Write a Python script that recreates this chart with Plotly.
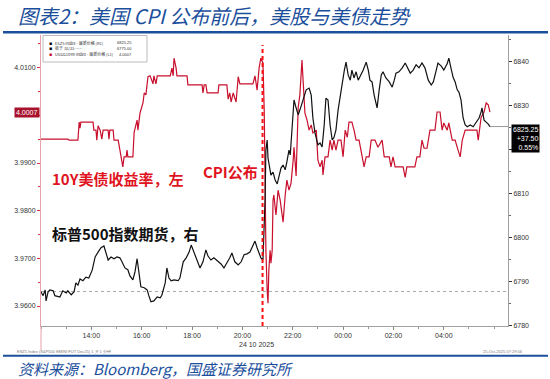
import plotly.graph_objects as go

# ---------------- data ----------------
# US 10Y Treasury yield (left axis), Beijing time 24-25 Oct 2025
ust_time = ["12:00","13:04","13:07","13:28","13:31","13:33","13:35","14:04","14:06","14:11","14:13","14:16","14:21","14:25","14:28","14:40","14:42","14:44","14:52","14:54","15:04","15:08","15:13","15:15","15:18","15:23","15:25","15:27","15:39","15:42","15:49","15:51","15:56","16:03","16:06","16:10","16:15","16:20","16:27","16:29","16:34","16:37","17:08","17:12","17:15","17:17","17:22","17:24","17:48","17:50","18:24","18:26","18:29","18:33","18:36","19:02","19:04","19:23","19:26","19:30","19:33","19:38","19:45","19:47","19:50","19:54","20:25","20:30","20:35","20:40","20:44","20:49",
            "20:52","20:54","20:56","20:59","21:01","21:03","21:06","21:08","21:11","21:13","21:15","21:20","21:25","21:30","21:34","21:37","21:42","21:46","21:51","21:56","22:01","22:03","22:08","22:13","22:17","22:22","22:25","22:29","22:34","22:39","22:44","22:48","22:56","23:00","23:05","23:10","23:12","23:17","23:24","23:29","23:34","23:38","23:43","23:48","23:55","00:00","00:05","00:10","00:14","00:21","00:26","00:31","00:38","00:45","00:50","00:55","01:02","01:07","01:16","01:23","01:33","01:38","01:50","01:54","01:59","02:04","02:23","02:28","02:32","02:51","02:56","03:03","03:08","03:13","03:20","03:27","03:39","03:44","03:51","03:56","04:00","04:08","04:12","04:20","04:27","04:34","04:39","04:44","04:51","05:19","05:22","05:29","05:36","05:41","05:46","05:50"]
ust_yield = [3.9950,3.9950,3.9948,3.9948,3.9986,3.9973,3.9986,3.9986,3.9969,3.9969,3.9948,3.9978,3.9969,3.9950,3.9969,3.9969,3.9950,3.9969,3.9969,3.9948,
             3.9948,3.9927,3.9910,3.9892,3.9913,3.9913,3.9927,3.9913,3.9913,3.9965,3.9990,3.9969,4.0005,4.0026,4.0047,4.0043,4.0081,4.0083,4.0066,4.0083,
             4.0066,4.0083,4.0083,4.0099,4.0083,4.0120,4.0099,4.0083,4.0083,4.0064,4.0064,4.0047,4.0064,4.0064,4.0047,4.0047,4.0064,4.0064,4.0034,4.0047,
             4.0028,4.0047,4.0028,4.0047,4.0081,4.0066,4.0066,4.0083,4.0053,4.0101,4.0120,4.0110,
             4.0011,3.9864,3.9717,3.9633,3.9606,3.9675,3.9717,3.9690,3.9717,3.9822,3.9833,3.9791,3.9843,3.9822,3.9791,3.9776,3.9833,3.9864,3.9843,3.9858,
             3.9906,3.9933,3.9873,4.0017,4.0043,4.0116,4.0068,4.0005,3.9990,3.9969,3.9980,3.9963,3.9969,3.9906,3.9892,3.9906,3.9875,3.9913,3.9913,3.9948,
             3.9927,3.9948,3.9927,3.9948,3.9948,3.9913,3.9969,3.9954,3.9986,3.9986,3.9969,3.9948,3.9948,3.9913,3.9892,3.9913,3.9913,3.9948,3.9948,3.9933,
             3.9948,3.9913,3.9913,3.9892,3.9913,3.9892,3.9892,3.9870,3.9892,3.9892,3.9913,3.9913,3.9948,3.9931,3.9931,3.9969,3.9969,4.0007,4.0007,3.9969,
             3.9984,3.9969,3.9984,3.9948,3.9948,3.9927,3.9913,3.9948,3.9969,3.9969,3.9948,3.9996,4.0007,4.0026,4.0022,4.0007]

# S&P 500 E-mini futures ESZ5 (right axis)
es_time = ["12:00","12:05","12:10","12:12","12:17","12:21","12:29","12:33","12:45","12:52","13:00","13:04","13:12","13:19","13:23","13:28","13:33","13:40","13:47","13:54","14:02","14:09","14:16","14:23","14:30","14:35","14:40","14:47","14:54","15:01","15:08","15:13","15:20","15:27","15:32","15:39","15:44","15:49","15:54","15:58","16:06","16:13","16:17","16:22","16:29","16:37","16:44","16:48","16:56","17:00","17:05","17:10","17:17","17:27","17:31","17:39","17:46","17:53","17:58","18:05","18:10","18:14","18:19","18:26","18:33","18:38","18:45","18:52","19:02","19:09","19:16","19:23","19:30","19:35","19:42","19:50","19:57","20:04","20:11","20:18","20:25","20:30","20:35","20:40","20:44","20:49",
           "20:54","20:56","20:59","21:01","21:03","21:08","21:13","21:18","21:23","21:27","21:32","21:37","21:42","21:46","21:51","21:54","21:58","22:03","22:08","22:13","22:17","22:25","22:32","22:39","22:44","22:48","22:53","23:00","23:05","23:10","23:15","23:19","23:24","23:29","23:34","23:38","23:43","23:48","23:53","23:58","00:03","00:07","00:12","00:17","00:21","00:26","00:31","00:36","00:43","00:48","00:55","01:00","01:04","01:09","01:14","01:19","01:21","01:26","01:31","01:35","01:42","01:50","01:57","02:02","02:06","02:13","02:21","02:28","02:32","02:40","02:47","02:54","03:01","03:08","03:15","03:23","03:30","03:35","03:42","03:46","03:54","04:00","04:08","04:12","04:17","04:22","04:27","04:32","04:36","04:41","04:46","04:51","04:56","05:03","05:10","05:17","05:24","05:29","05:31","05:36","05:41","05:46","05:50"]
es_price = [6787.7,6786.8,6788.1,6785.6,6787.7,6788.1,6787.9,6786.8,6786.5,6787.9,6787.4,6787.9,6787.0,6787.7,6789.7,6789.2,6790.6,6790.2,6791.0,6790.8,
            6792.6,6795.6,6796.7,6797.7,6798.1,6796.7,6794.9,6795.6,6795.2,6795.6,
            6795.4,6794.5,6793.1,6792.7,6791.3,6790.4,6792.2,6795.2,6792.2,6788.8,
            6788.6,6788.1,6786.8,6785.4,6785.6,6786.5,6786.3,6786.9,6789.7,6793.1,
            6790.8,6790.2,6790.4,6790.2,6790.8,6794.5,6795.4,6796.7,6798.3,6796.5,
            6795.4,6794.5,6793.1,6794.5,6797.2,6795.8,6794.9,6795.4,6794.5,6794.0,
            6793.1,6794.2,6795.4,6796.5,6794.5,6793.8,6794.5,6796.1,6796.3,6796.7,
            6798.1,6799.2,6797.7,6796.1,6795.4,6794.9,
            6808.6,6819.9,6822.2,6818.1,6817.2,6814.2,6814.9,6813.1,6812.2,6814.2,
            6815.8,6816.5,6815.4,6817.2,6819.9,6818.8,6824.5,6831.3,6829.5,6827.9,
            6829.0,6831.3,6833.6,6834.0,6832.4,6827.2,6823.8,6821.1,6821.5,6820.6,
            6825.6,6831.7,6831.3,6825.6,6822.2,6822.7,6824.5,6829.0,6832.4,6835.8,
            6838.1,6839.9,6837.0,6835.8,6838.1,6836.3,6837.7,6835.8,6837.0,6838.1,
            6839.9,6838.1,6835.8,6835.4,6832.4,6830.2,6829.5,6833.6,6837.0,6837.7,
            6836.3,6835.4,6834.2,6835.8,6837.4,6837.7,6838.6,6839.7,6838.8,6837.4,
            6838.1,6839.3,6838.6,6839.7,6838.6,6835.8,6834.7,6835.4,6838.1,6839.7,
            6839.0,6838.1,6839.5,6840.8,6838.6,6836.5,6835.4,6833.6,6833.1,6831.3,
            6827.2,6825.6,6825.2,6825.6,6825.2,6826.1,6827.2,6828.6,6829.5,6826.7,
            6826.3,6825.8,6825.25]

assert len(ust_time) == len(ust_yield), (len(ust_time), len(ust_yield))
assert len(es_time) == len(es_price), (len(es_time), len(es_price))

x_tick_labels = ["14:00", "16:00", "18:00", "20:00", "22:00", "00:00", "02:00", "04:00"]
left_ticks = [3.96, 3.97, 3.98, 3.99, 4.00, 4.01]
left_tick_text = ["3.9600", "3.9700", "3.9800", "3.9900", "", "4.0100"]
right_ticks = [6780, 6790, 6800, 6810, 6820, 6830, 6840]
right_tick_text = ["6780", "6790", "6800", "6810", "", "6830", "6840"]

cpi_time = "20:48"
es_prev_close = 6787.75
es_last, es_change, es_pct = 6825.25, "+37.50", "0.55%"
ust_last = 4.0007
x_start, x_end = "12:00", "06:33"


def to_dt(hhmm):
    h, m = map(int, hhmm.split(":"))
    day = 24 if h >= 12 else 25
    return f"2025-10-{day} {h:02d}:{m:02d}"


RED_LINE = "#C8102E"
RED_TXT = "#E0141E"
BLUE = "#1B4F9C"
TICKFONT = dict(family="Liberation Sans, Arial", size=7, color="#333333")

fig = go.Figure()
fig.add_trace(go.Scatter(x=[to_dt(t) for t in ust_time], y=ust_yield, mode="lines",
                         line=dict(color=RED_LINE, width=1.2), yaxis="y",
                         showlegend=False, hoverinfo="skip"))
fig.add_trace(go.Scatter(x=[to_dt(t) for t in es_time], y=es_price, mode="lines",
                         line=dict(color="#111111", width=1.2), yaxis="y2",
                         showlegend=False, hoverinfo="skip"))

W, H = 550, 379
ML, MR, MT, MB = 41, 42, 35, 53
PW, PH = W - ML - MR, H - MT - MB


def px(xp):
    return (xp - ML) / PW


def py(yp):
    return (H - MB - yp) / PH


shapes = [
    # previous close reference line
    dict(type="line", xref="paper", x0=0, x1=1, yref="y2", y0=es_prev_close, y1=es_prev_close,
         line=dict(color="#A8A8A8", width=1, dash="dot"), layer="below"),
    # last price guide line
    dict(type="line", xref="x", x0=to_dt(es_time[-1]), x1=to_dt(x_end), yref="y2",
         y0=es_last, y1=es_last, line=dict(color="#9A9A9A", width=1), layer="below"),
    # CPI release marker
    dict(type="line", xref="x", x0=to_dt(cpi_time), x1=to_dt(cpi_time), yref="paper",
         y0=0, y1=py(45), line=dict(color="#FF1010", width=2, dash="4px,3px")),
    # left axis extension
    dict(type="line", xref="paper", x0=0, x1=0, yref="paper", y0=py(350), y1=0,
         line=dict(color="#E8A0AA", width=1)),
    # header / footer rules
    dict(type="line", xref="paper", x0=px(3), x1=px(548), yref="paper", y0=py(32.3), y1=py(32.3),
         line=dict(color=BLUE, width=2.5)),
    dict(type="line", xref="paper", x0=px(3), x1=px(548), yref="paper", y0=py(355.8), y1=py(355.8),
         line=dict(color=BLUE, width=2)),
    # legend box
    dict(type="rect", xref="paper", yref="paper", x0=px(43), x1=px(147), y0=py(62), y1=py(35.5),
         line=dict(color="#BBBBBB", width=1), fillcolor="white"),
]

annotations = [
    dict(text="图表2：美国 CPI 公布前后，美股与美债走势", xref="paper", yref="paper",
         x=px(16), y=py(15), xanchor="left", yanchor="middle", showarrow=False,
         font=dict(family="Noto Sans CJK SC", size=20, color=BLUE, style="italic")),
    dict(text="资料来源：Bloomberg，国盛证券研究所", xref="paper", yref="paper",
         x=px(16), y=py(368), xanchor="left", yanchor="middle", showarrow=False,
         font=dict(family="Noto Sans CJK SC", size=15, color=BLUE, style="italic")),
    dict(text="10Y美债收益率，左", xref="paper", yref="paper", x=px(50), y=py(178.5),
         xanchor="left", yanchor="middle", showarrow=False,
         font=dict(family="Noto Sans CJK SC", size=15, color=RED_TXT, weight="bold")),
    dict(text="CPI公布", xref="paper", yref="paper", x=px(260), y=py(171),
         xanchor="right", yanchor="middle", showarrow=False,
         font=dict(family="Noto Sans CJK SC", size=15, color=RED_TXT, weight="bold")),
    dict(text="标普500指数期货，右", xref="paper", yref="paper", x=px(50), y=py(233),
         xanchor="left", yanchor="middle", showarrow=False,
         font=dict(family="Noto Sans CJK SC", size=15, color="#111111", weight="bold")),
    dict(text="24 10 2025", xref="paper", yref="paper", x=px(237), y=py(344.5),
         xanchor="left", yanchor="middle", showarrow=False, font=TICKFONT),
    # last value boxes
    dict(text=f"{ust_last:.4f}", xref="paper", yref="y", x=px(40), y=ust_last,
         xanchor="right", yanchor="middle", showarrow=False, bgcolor="#A8122C",
         borderpad=1, font=dict(family="Liberation Sans, Arial", size=7, color="white")),
    dict(text=f"{es_last:.2f}<br>{es_change}<br>{es_pct}", xref="paper", yref="y2",
         x=px(510.5), y=es_last, yshift=3, xanchor="left", yanchor="top", align="right",
         showarrow=False, bgcolor="#000000", borderpad=1,
         font=dict(family="Liberation Sans, Arial", size=7, color="white")),
    # tiny bloomberg footer texts
    dict(text="ESZ5 Index (S&P500 EMINI FUT Dec25) 1 天 1 分钟", xref="paper", yref="paper",
         x=px(15), y=py(351.5), xanchor="left", yanchor="middle", showarrow=False,
         font=dict(family="Liberation Sans, Arial", size=4, color="#777777")),
    dict(text="25-Oct-2025 07:29:56", xref="paper", yref="paper",
         x=px(525), y=py(351.5), xanchor="right", yanchor="middle", showarrow=False,
         font=dict(family="Liberation Sans, Arial", size=4, color="#777777")),
]

legend_rows = [
    ("#000000", "ESZ5 Index - 最新价格 (R1)", f"{es_last:.2f}"),
    ("#000000", "收于 10/23 -----", "6775.00"),
    (RED_LINE, "USGG10YR Index - 最新价格 (L1)", f"{ust_last:.4f}"),
]
for i, (col, name, val) in enumerate(legend_rows):
    yy = py(42.7 + i * 5.7)
    annotations.append(dict(text="■", xref="paper", yref="paper", x=px(47), y=yy,
                            xanchor="left", yanchor="middle", showarrow=False,
                            font=dict(size=5, color=col)))
    annotations.append(dict(text=name, xref="paper", yref="paper", x=px(53), y=yy,
                            xanchor="left", yanchor="middle", showarrow=False,
                            font=dict(family="Noto Sans CJK SC", size=4, color="#333333")))
    annotations.append(dict(text=val, xref="paper", yref="paper", x=px(134), y=yy,
                            xanchor="right", yanchor="middle", showarrow=False,
                            font=dict(family="Liberation Sans, Arial", size=4, color="#333333")))

fig.update_layout(
    width=W, height=H, margin=dict(l=ML, r=MR, t=MT, b=MB),
    paper_bgcolor="white", plot_bgcolor="white", showlegend=False,
    xaxis=dict(type="date", range=[to_dt(x_start), to_dt(x_end)],
               tickmode="array", tickvals=[to_dt(t) for t in x_tick_labels], ticktext=x_tick_labels,
               ticks="outside", ticklen=3, tickcolor="#888888", showline=True,
               linecolor="#A0A0A0", linewidth=1, showgrid=False, zeroline=False,
               tickfont=TICKFONT,
               minor=dict(ticks="outside", ticklen=2, dtick=3600000, tickcolor="#999999")),
    yaxis=dict(range=[3.955804, 4.016861], tickmode="array", tickvals=left_ticks,
               ticktext=left_tick_text, ticks="outside", ticklen=3, tickcolor="#E0304A",
               showline=True, linecolor="#E8A0AA", linewidth=1, showgrid=False, zeroline=False,
               tickfont=TICKFONT,
               minor=dict(ticks="outside", ticklen=2, dtick=0.005, tickcolor="#E0304A")),
    yaxis2=dict(range=[6779.9, 6846.07], overlaying="y", side="right", tickmode="array",
                tickvals=right_ticks, ticktext=right_tick_text, ticks="outside", ticklen=3,
                tickcolor="#333333", showline=True, linecolor="#A0A0A0", linewidth=1,
                showgrid=False, zeroline=False, tickfont=TICKFONT,
                minor=dict(ticks="outside", ticklen=2, dtick=5, tickcolor="#666666")),
    shapes=shapes, annotations=annotations,
)

fig.write_html("out.html")
